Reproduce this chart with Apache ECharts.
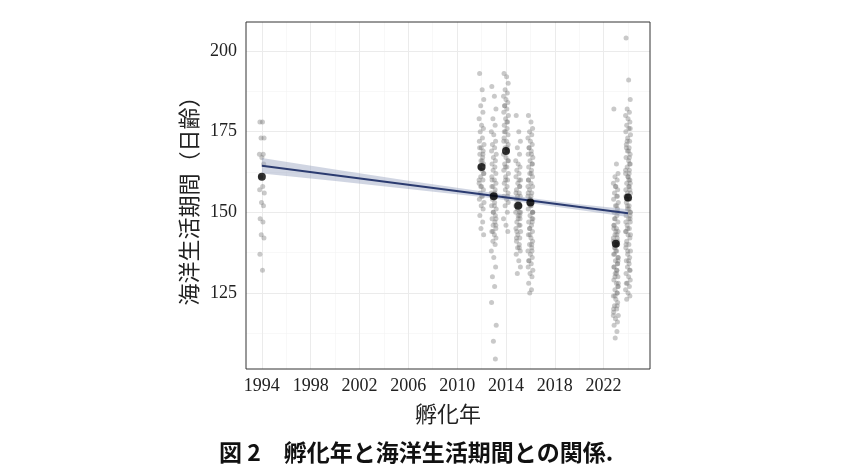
<!DOCTYPE html>
<html><head><meta charset="utf-8">
<script src="https://cdn.jsdelivr.net/npm/echarts@6/dist/echarts.min.js"></script>
<style>html,body{margin:0;padding:0;background:#fff}#c{width:841px;height:471px}</style>
</head><body><div id="c"></div>
<script>
// ---- data ----
const years = [1994, 2012, 2013, 2014, 2015, 2016, 2023, 2024];
const obs1994 = [178,178,173,173,168,168,167,165,161,158,157,156,153,152,148,147,143,142,137,132];
const obs2012 = [193,188,185,183,181,179,177,176,175,173,172,171,170,169,168,167,166,165,164,163,162,161,160,159,158,157,156,155,154,153,152,151,149,147,145,143,170,166,162,158,168,160,155];
const obs2013 = [189,186,182,179,177,175,174,172,171,170,169,168,167,166,165,164,163,162,161,160,159,158,157,156,155,155,154,153,152,151,150,149,148,147,146,145,144,143,142,141,140,138,136,133,130,127,122,115,110,104.5,160,156,150,146,158,152,148,144];
const obs2014 = [193,192,190,188,187,186,185,184,183,182,181,180,179,178,177,176,175,174,173,172,171,170,169,168,167,166,165,164,163,162,161,160,159,158,157,156,155,154,153,152,150,148,146,144,183,178,172,166,160,155,175,170,164];
const obs2015 = [180,175,172,170,168,166,165,164,163,162,161,160,159,158,157,156,155,155,154,153,152,151,150,150,149,148,147,146,145,144,143,142,141,140,139,138,137,135,133,131,158,152,148,146,144,160,156,150,154,149,142,139];
const obs2016 = [180,178,176,175,174,173,172,171,170,169,168,167,166,165,164,163,162,161,160,159,158,157,156,155,154,153,153,152,151,150,149,148,147,146,145,144,143,142,141,140,139,138,137,136,135,134,133,132,131,130,128,126,125,165,160,155,150,145,140,158,152,147,170,162,156,148,143,138,135,168,154,150];
const obs2023 = [182,165,162,161,160,159,158,157,156,155,154,153,152,151,150,149,148,147,146,145,144,143,142,141,140,140,139,138,137,136,135,134,133,132,131,130,129,128,127,126,125,124,123,122,121,120,119,118,117,116,115,113,111,150,145,140,135,130,125,142,138,134,148,152,120,128,158,155,146,143,139,136,133,131,127,124,121,118,144,141,137,132];
const obs2024 = [204,191,185,182,181,180,179,178,177,176,175,174,173,172,171,170,169,168,167,166,165,164,163,162,161,160,159,158,157,156,155,154,153,152,151,150,149,148,147,146,145,144,143,142,141,140,139,138,137,136,135,134,133,132,131,130,129,128,127,126,125,124,123,160,155,150,145,165,170,158,152,148,140,135,176,172,167,163,161,157,154,151,147,143,138,132,128,162,156,149,144,169,159];
const observations = [obs1994, obs2012, obs2013, obs2014, obs2015, obs2016, obs2023, obs2024];
const yearMeans = [161, 164, 155, 169, 152, 153, 140.2, 154.6];
// jitter offsets (years) applied in turn to the points of each column
const jitter = [-0.16, 0.05, 0.18, -0.07, 0.11, -0.2, 0.0, 0.15, -0.11, 0.07, -0.18, 0.2, -0.03, 0.13, -0.14, 0.09, -0.05, 0.17];
// linear fit and its confidence band
const fitX = [1994, 2000, 2006, 2012, 2016, 2020, 2024];
const fitY = [164.4, 161.5, 158.5, 155.6, 153.6, 151.6, 149.7];
const fitHalf = [2.4, 1.8, 1.3, 0.9, 0.8, 0.9, 1.2];
// axis ticks
const xTicks = [1994, 1998, 2002, 2006, 2010, 2014, 2018, 2022];
const xMinor = [1996, 2000, 2004, 2008, 2012, 2016, 2020, 2024];
const yTicks = [125, 150, 175, 200];
const yMinor = [112.5, 137.5, 162.5, 187.5];

// ---- build ----
const X_MIN = 1992.7, X_MAX = 2025.8, Y_MIN = 101.4, Y_MAX = 209;
const pts = [];
observations.forEach((arr, i) => arr.forEach((v, j) => pts.push([years[i] + jitter[j % jitter.length], v])));
const fitLine = [[fitX[0], fitY[0]], [fitX[fitX.length - 1], fitY[fitY.length - 1]]];
const means = years.map((y, i) => [y, yearMeans[i]]);

const serif = 'Liberation Serif';
const jp = 'Noto Sans CJK JP';
const mk = (arr, vert, w, c) => arr.map(v => ({
  coords: vert ? [[v, Y_MIN], [v, Y_MAX]] : [[X_MIN, v], [X_MAX, v]],
  lineStyle: { width: w, color: c }
}));
const gridData = [].concat(mk(xMinor, true, 0.6, '#f3f3f3'), mk(yMinor, false, 0.6, '#f3f3f3'),
  mk(xTicks, true, 1, '#ebebeb'), mk(yTicks, false, 1, '#ebebeb'));

const chart = echarts.init(document.getElementById('c'), null, { renderer: 'canvas' });
chart.setOption({
  animation: false,
  backgroundColor: '#fff',
  title: {
    text: '図 2　孵化年と海洋生活期間との関係.',
    left: 214, top: 436,
    textStyle: { fontFamily: jp, fontSize: 23, fontWeight: 'bold', color: '#111' }
  },
  grid: { left: 246, top: 22, right: 191, bottom: 102, show: true, borderColor: '#333', borderWidth: 1, backgroundColor: 'transparent', z: 10 },
  xAxis: {
    type: 'value', min: X_MIN, max: X_MAX,
    name: '孵化年', nameLocation: 'middle', nameGap: 34,
    nameTextStyle: { fontFamily: jp, fontSize: 22, color: '#222' },
    axisLine: { show: false }, axisTick: { show: false }, splitLine: { show: false },
    axisLabel: { customValues: xTicks, formatter: v => String(v), fontFamily: serif, fontSize: 18, color: '#222', margin: 8 }
  },
  yAxis: {
    type: 'value', min: Y_MIN, max: Y_MAX,
    name: '海洋生活期間（日齢）', nameLocation: 'middle', nameGap: 46,
    nameTextStyle: { fontFamily: jp, fontSize: 22, color: '#222' },
    axisLine: { show: false }, axisTick: { show: false }, splitLine: { show: false },
    axisLabel: { customValues: yTicks, formatter: v => String(v), fontFamily: serif, fontSize: 18, color: '#222', margin: 9 }
  },
  series: [
    { type: 'lines', coordinateSystem: 'cartesian2d', data: gridData, silent: true, z: 0,
      lineStyle: { type: 'solid', opacity: 1 }, effect: { show: false } },
    { type: 'scatter', data: pts, symbol: 'circle', symbolSize: 5, silent: true, z: 2,
      itemStyle: { color: 'rgba(120,120,120,0.5)' } },
    { type: 'custom', silent: true, z: 3, data: [0],
      renderItem: (params, api) => {
        const up = fitX.map((x, i) => api.coord([x, fitY[i] + fitHalf[i]]));
        const lo = fitX.map((x, i) => api.coord([x, fitY[i] - fitHalf[i]])).reverse();
        return { type: 'polygon', shape: { points: up.concat(lo) }, style: { fill: 'rgba(150,162,190,0.45)' } };
      } },
    { type: 'line', data: fitLine, symbol: 'none', silent: true, z: 4, lineStyle: { color: '#2b3b70', width: 2 } },
    { type: 'scatter', data: means, symbol: 'circle', symbolSize: 8, silent: true, z: 5, itemStyle: { color: '#000' } }
  ]
});
</script></body></html>
